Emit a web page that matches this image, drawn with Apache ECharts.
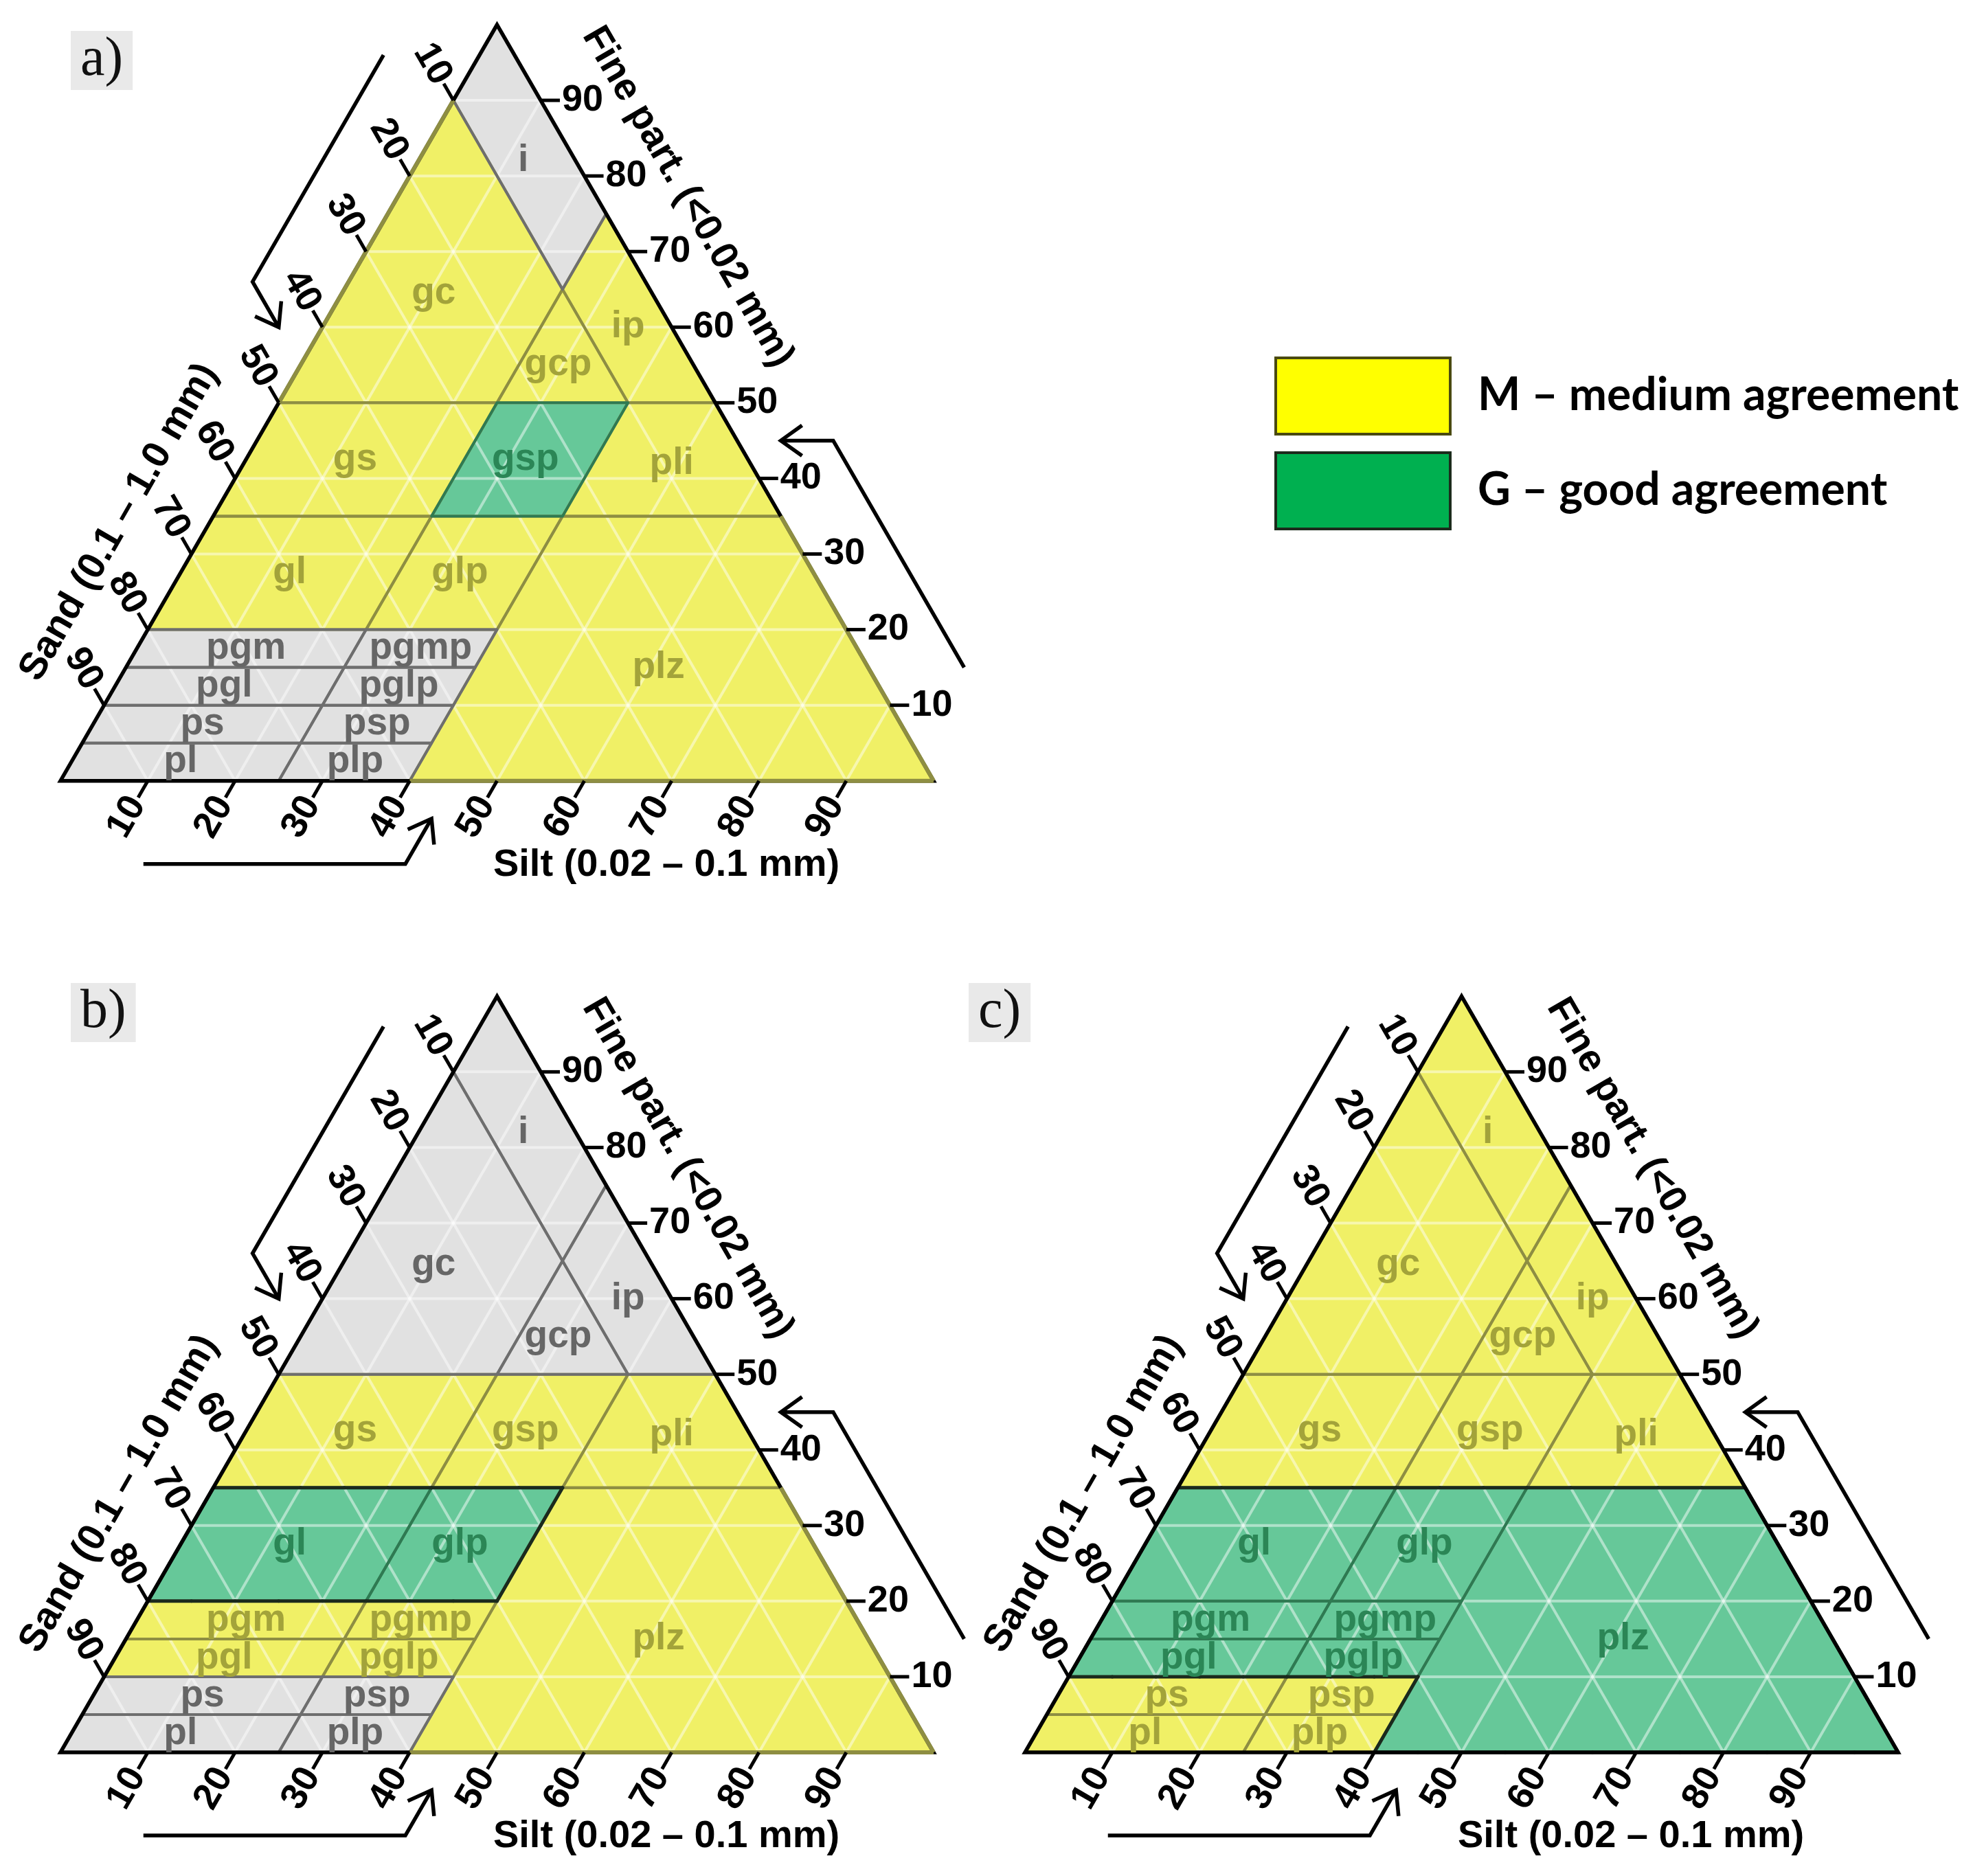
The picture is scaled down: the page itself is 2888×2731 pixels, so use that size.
<!DOCTYPE html>
<html>
<head>
<meta charset="utf-8">
<title>Texture classes - agreement</title>
<script src="https://cdn.jsdelivr.net/npm/echarts@6/dist/echarts.min.js"></script>
<style>
  html, body { margin: 0; padding: 0; background: #fff; }
  #chart { width: 2888px; height: 2731px; }
</style>
</head>
<body>
<div id="chart"></div>
<script>
// texture classes, polygons given as [fine %, silt %] (sand = 100 - fine - silt)
const regionNames = ['i', 'gc', 'ip', 'gcp', 'gs', 'gsp', 'pli', 'gl', 'glp', 'plz',
  'pgm', 'pgmp', 'pgl', 'pglp', 'ps', 'psp', 'pl', 'plp'];
const regionShapes = [
  [[100, 0], [90, 0], [65, 25], [75, 25]],
  [[90, 0], [50, 0], [50, 25], [65, 25]],
  [[75, 25], [65, 25], [50, 40], [50, 50]],
  [[65, 25], [50, 25], [50, 40]],
  [[50, 0], [35, 0], [35, 25], [50, 25]],
  [[50, 25], [35, 25], [35, 40], [50, 40]],
  [[50, 40], [35, 40], [35, 65], [50, 50]],
  [[35, 0], [20, 0], [20, 25], [35, 25]],
  [[35, 25], [20, 25], [20, 40], [35, 40]],
  [[35, 40], [0, 40], [0, 100], [35, 65]],
  [[20, 0], [15, 0], [15, 25], [20, 25]],
  [[20, 25], [15, 25], [15, 40], [20, 40]],
  [[15, 0], [10, 0], [10, 25], [15, 25]],
  [[15, 25], [10, 25], [10, 40], [15, 40]],
  [[10, 0], [5, 0], [5, 25], [10, 25]],
  [[10, 25], [5, 25], [5, 40], [10, 40]],
  [[5, 0], [0, 0], [0, 25], [5, 25]],
  [[5, 25], [0, 25], [0, 40], [5, 40]]
];
// where each class name is written, [fine, silt]
const labelAt = [
  [82, 12], [64.5, 10.5], [60, 35], [55, 29.5], [42.5, 12.5], [42.5, 32], [42, 49],
  [27.5, 12.5], [27.5, 32], [15, 61], [17.5, 12.5], [17.5, 32.5], [12.5, 12.5],
  [12.5, 32.5], [7.5, 12.5], [7.5, 32.5], [2.5, 12.5], [2.5, 32.5]
];

// agreement per class: N = none (grey), M = medium, G = good
const agreeA = ['N', 'M', 'M', 'M', 'M', 'G', 'M', 'M', 'M', 'M', 'N', 'N', 'N', 'N', 'N', 'N', 'N', 'N'];
const agreeB = ['N', 'N', 'N', 'N', 'M', 'M', 'M', 'G', 'G', 'M', 'M', 'M', 'M', 'M', 'N', 'N', 'N', 'N'];
const agreeC = ['M', 'M', 'M', 'M', 'M', 'M', 'M', 'G', 'G', 'G', 'G', 'G', 'G', 'G', 'M', 'M', 'M', 'M'];

const tickValues = [10, 20, 30, 40, 50, 60, 70, 80, 90];
const gridValues = [10, 20, 30, 40, 50, 60, 70, 80, 90];

// the bent arrows beside each axis (axis %, offset outside the triangle)
const arrowOffset = -11;
const arrowFrom = 15;
const arrowTo = 45;
const arrowTip = -5;

const panelNames = ['a)', 'b)', 'c)'];
const legendItems = ['M \u2013 medium agreement', 'G \u2013 good agreement'];

const fillColor = { N: '#e1e1e1', M: '#f0f066', G: '#66c899' };
const lineColor = { N: '#6e6e6e', M: '#8e8e42', G: '#2f7a52' };
const textColor = { N: '#666666', M: '#a3a33a', G: '#2b8656' };
const rank = { M: 0, N: 1, G: 2 };

const H = Math.sqrt(3) / 2;
const toXY = p => [p[1] + p[0] / 2, p[0] * H];
const BOLD = '"Liberation Sans", Arial, sans-serif';

// outer edges that show the class border colour instead of black
const panels = [
  { agree: agreeA, outline: false, soft: [[[90, 0], [50, 0]], [[0, 40], [0, 100]], [[0, 100], [35, 65]]] },
  { agree: agreeB, outline: true, soft: [[[0, 40], [0, 100]], [[0, 100], [35, 65]]] },
  { agree: agreeC, outline: true, soft: [] }
];
const grids = [
  { left: 88, top: 36, width: 1271, height: 1100.7 },
  { left: 88, top: 1450.3, width: 1271, height: 1100.7 },
  { left: 1492, top: 1450.3, width: 1271, height: 1100.7 }
];
const panelLabelPos = [[103, 45], [103, 1431], [1410, 1431]];

// grid lines of the triangle
const gridLines = [];
gridValues.forEach(v => {
  gridLines.push([[v, 0], [v, 100 - v]]);
  gridLines.push([[0, v], [100 - v, v]]);
  gridLines.push([[100 - v, 0], [0, 100 - v]]);
});

// outer border of the union of "good" classes
function outlineSegments(agree) {
  const count = new Map();
  const segs = new Map();
  regionShapes.forEach((poly, i) => {
    if (agree[i] !== 'G') return;
    for (let k = 0; k < poly.length; k++) {
      const a = poly[k], b = poly[(k + 1) % poly.length];
      const n = Math.max(Math.abs(b[0] - a[0]), Math.abs(b[1] - a[1]),
        Math.abs(b[0] + b[1] - a[0] - a[1])) / 5;
      for (let s = 0; s < n; s++) {
        const p = [a[0] + (b[0] - a[0]) * s / n, a[1] + (b[1] - a[1]) * s / n];
        const q = [a[0] + (b[0] - a[0]) * (s + 1) / n, a[1] + (b[1] - a[1]) * (s + 1) / n];
        const kp = p.join(','), kq = q.join(',');
        const key = kp < kq ? kp + '|' + kq : kq + '|' + kp;
        count.set(key, (count.get(key) || 0) + 1);
        segs.set(key, [p, q]);
      }
    }
  });
  return [...count].filter(e => e[1] === 1).map(e => segs.get(e[0]));
}

// ticks on the three sides
const tickItems = [];
tickValues.forEach(v => {
  tickItems.push({ axis: 'sand', v: v });
  tickItems.push({ axis: 'fine', v: v });
  tickItems.push({ axis: 'silt', v: v });
});
function tickGeom(t) {
  if (t.axis === 'sand') return { p: [100 - t.v, 0], d: [1, -1], rot: -Math.PI / 3, align: 'right' };
  if (t.axis === 'fine') return { p: [t.v, 100 - t.v], d: [0, 1], rot: 0, align: 'left' };
  return { p: [0, t.v], d: [-1, 0], rot: Math.PI / 3, align: 'right' };
}

function arrowPoints(axis) {
  if (axis === 'sand') {
    return [[100 - arrowFrom - arrowOffset, arrowOffset], [100 - arrowTo - arrowOffset, arrowOffset],
      [100 - arrowTo - arrowTip, arrowTip]];
  }
  if (axis === 'fine') {
    return [[arrowFrom, 100 - arrowFrom - arrowOffset], [arrowTo, 100 - arrowTo - arrowOffset],
      [arrowTo, 100 - arrowTo - arrowTip]];
  }
  return [[arrowOffset, arrowFrom], [arrowOffset, arrowTo], [arrowTip, arrowTo]];
}

const titles = [
  { text: 'Sand (0.1 \u2013 1.0 mm)', at: [29, 0], n: [-0.866, -0.5], off: 114, rot: Math.PI / 3 },
  { text: 'Fine part. (<0.02 mm)', at: [72, 28], n: [0.866, -0.5], off: 115, rot: -Math.PI / 3 },
  { text: 'Silt (0.02 \u2013 0.1 mm)', at: [0, 69.4], n: [0, 1], off: 123, rot: 0 }
];

const idx = arr => arr.map((x, i) => [i, 0]);
const series = [];

panels.forEach((panel, k) => {
  const agree = panel.agree;
  const ax = { type: 'custom', xAxisIndex: k, yAxisIndex: k, silent: true, animation: false };
  const order = regionNames.map((n, i) => i).sort((a, b) => rank[agree[a]] - rank[agree[b]]);

  series.push(Object.assign({}, ax, {
    z: 1, data: idx(regionNames),
    renderItem: (params, api) => ({
      type: 'polygon',
      shape: { points: regionShapes[params.dataIndex].map(p => api.coord(toXY(p))) },
      style: { fill: fillColor[agree[params.dataIndex]] }
    })
  }));

  series.push(Object.assign({}, ax, {
    z: 2, data: idx(gridLines),
    renderItem: (params, api) => {
      const a = api.coord(toXY(gridLines[params.dataIndex][0]));
      const b = api.coord(toXY(gridLines[params.dataIndex][1]));
      return {
        type: 'line', shape: { x1: a[0], y1: a[1], x2: b[0], y2: b[1] },
        style: { stroke: 'rgba(255,255,255,0.48)', lineWidth: 4 }
      };
    }
  }));

  series.push(Object.assign({}, ax, {
    z: 3, data: idx(order),
    renderItem: (params, api) => {
      const i = order[params.dataIndex];
      return {
        type: 'polygon',
        shape: { points: regionShapes[i].map(p => api.coord(toXY(p))) },
        style: { fill: 'none', stroke: lineColor[agree[i]], lineWidth: 4, lineJoin: 'round' }
      };
    }
  }));

  if (panel.outline) {
    const segs = outlineSegments(agree);
    series.push(Object.assign({}, ax, {
      z: 4, data: idx(segs),
      renderItem: (params, api) => {
        const a = api.coord(toXY(segs[params.dataIndex][0]));
        const b = api.coord(toXY(segs[params.dataIndex][1]));
        return {
          type: 'line', shape: { x1: a[0], y1: a[1], x2: b[0], y2: b[1] },
          style: { stroke: '#1b2a1d', lineWidth: 5, lineCap: 'round' }
        };
      }
    }));
  }

  // triangle frame
  series.push(Object.assign({}, ax, {
    z: 5, data: [[0, 0]],
    renderItem: (params, api) => ({
      type: 'polygon',
      shape: { points: [[100, 0], [0, 0], [0, 100]].map(p => api.coord(toXY(p))) },
      style: { fill: 'none', stroke: '#000', lineWidth: 5.5, lineJoin: 'miter' }
    })
  }));

  if (panel.soft.length) {
    series.push(Object.assign({}, ax, {
      z: 6, data: idx(panel.soft),
      renderItem: (params, api) => {
        const a = api.coord(toXY(panel.soft[params.dataIndex][0]));
        const b = api.coord(toXY(panel.soft[params.dataIndex][1]));
        return {
          type: 'line', shape: { x1: a[0], y1: a[1], x2: b[0], y2: b[1] },
          style: { stroke: lineColor.M, lineWidth: 6 }
        };
      }
    }));
  }

  // class names
  series.push(Object.assign({}, ax, {
    z: 7, data: idx(regionNames),
    renderItem: (params, api) => {
      const i = params.dataIndex;
      const c = api.coord(toXY(labelAt[i]));
      return {
        type: 'text', x: c[0], y: c[1],
        style: {
          text: regionNames[i], fill: textColor[agree[i]],
          font: 'bold 55px ' + BOLD, align: 'center', verticalAlign: 'middle'
        }
      };
    }
  }));

  // ticks and tick labels
  series.push(Object.assign({}, ax, {
    z: 8, data: idx(tickItems),
    renderItem: (params, api) => {
      const t = tickItems[params.dataIndex];
      const g = tickGeom(t);
      const a = api.coord(toXY(g.p));
      const b = api.coord(toXY([g.p[0] + 2.2 * g.d[0], g.p[1] + 2.2 * g.d[1]]));
      const len = Math.hypot(b[0] - a[0], b[1] - a[1]);
      const ux = (b[0] - a[0]) / len, uy = (b[1] - a[1]) / len;
      return {
        type: 'group',
        children: [
          { type: 'line', shape: { x1: a[0], y1: a[1], x2: b[0], y2: b[1] },
            style: { stroke: '#000', lineWidth: 5 } },
          { type: 'text', x: b[0] + ux * 3, y: b[1] + uy * 3, rotation: g.rot,
            style: { text: String(t.v), fill: '#000', font: 'bold 54px ' + BOLD,
              align: g.align, verticalAlign: 'middle' } }
        ]
      };
    }
  }));

  // bent arrows
  const arrowAxes = ['sand', 'fine', 'silt'];
  series.push(Object.assign({}, ax, {
    z: 8, data: idx(arrowAxes),
    renderItem: (params, api) => {
      const pts = arrowPoints(arrowAxes[params.dataIndex]).map(p => api.coord(toXY(p)));
      const tip = pts[2], kink = pts[1];
      const len = Math.hypot(tip[0] - kink[0], tip[1] - kink[1]);
      const ux = (tip[0] - kink[0]) / len, uy = (tip[1] - kink[1]) / len;
      const head = s => {
        const c = Math.cos(s * 0.62), sn = Math.sin(s * 0.62);
        return [tip[0] - 38 * (ux * c - uy * sn), tip[1] - 38 * (ux * sn + uy * c)];
      };
      return {
        type: 'group',
        children: [
          { type: 'polyline', shape: { points: pts },
            style: { fill: 'none', stroke: '#000', lineWidth: 5.5, lineJoin: 'miter' } },
          { type: 'polyline', shape: { points: [head(1), tip, head(-1)] },
            style: { fill: 'none', stroke: '#000', lineWidth: 5.5, lineJoin: 'miter' } }
        ]
      };
    }
  }));

  // axis titles
  series.push(Object.assign({}, ax, {
    z: 8, data: idx(titles),
    renderItem: (params, api) => {
      const t = titles[params.dataIndex];
      const c = api.coord(toXY(t.at));
      return {
        type: 'text', x: c[0] + t.n[0] * t.off, y: c[1] + t.n[1] * t.off, rotation: t.rot,
        style: { text: t.text, fill: '#000', font: 'bold 56px ' + BOLD,
          align: 'center', verticalAlign: 'middle' }
      };
    }
  }));
});

const graphic = [];
panelNames.forEach((name, k) => {
  graphic.push({
    type: 'text', left: panelLabelPos[k][0], top: panelLabelPos[k][1], silent: true,
    style: {
      text: name, fill: '#111', font: '80px "Liberation Serif", "DejaVu Serif", serif',
      backgroundColor: '#e9e9e9', padding: [2, 14], lineHeight: 82
    }
  });
});
const legendFill = ['#ffff00', '#00b050'];
const legendStroke = ['#4a4a10', '#1c2b1c'];
legendItems.forEach((txt, k) => {
  graphic.push({
    type: 'rect', left: 1855, top: 519 + k * 138, silent: true,
    shape: { width: 254, height: 111 },
    style: { fill: legendFill[k], stroke: legendStroke[k], lineWidth: 4 }
  });
  graphic.push({
    type: 'text', left: 2151, top: 543 + k * 138, silent: true,
    style: { text: txt, fill: '#000', font: 'bold 66px Lato, "Open Sans", sans-serif' }
  });
});

const chart = echarts.init(document.getElementById('chart'), null, { renderer: 'canvas' });
chart.setOption({
  animation: false,
  backgroundColor: '#ffffff',
  grid: grids,
  xAxis: grids.map((g, k) => ({ gridIndex: k, type: 'value', min: 0, max: 100, show: false })),
  yAxis: grids.map((g, k) => ({ gridIndex: k, type: 'value', min: 0, max: 100 * H, show: false })),
  graphic: graphic,
  series: series
});
</script>
</body>
</html>
